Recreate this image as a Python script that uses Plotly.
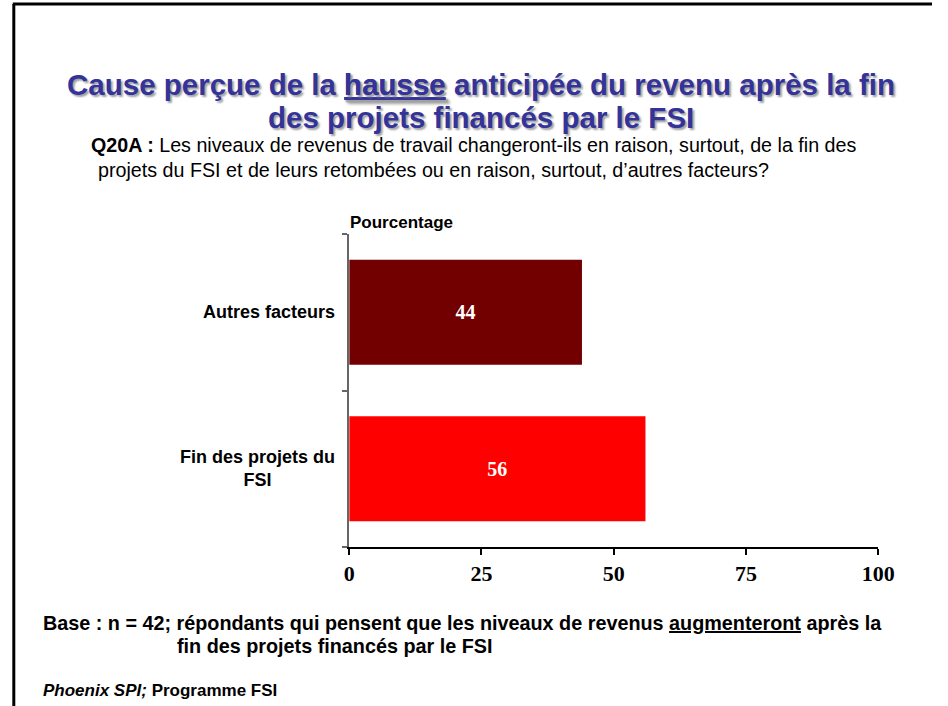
import plotly.graph_objects as go

W, H = 948, 706

categories = ['Fin des projets du<br>FSI', 'Autres facteurs']
values = [56, 44]
bar_colors = ['#FF0000', '#720000']
x_ticks = [0, 25, 50, 75, 100]


def px(x):
    return x / W


def py(y):
    return 1 - y / H


fig = go.Figure(go.Bar(
    x=values,
    y=categories,
    orientation='h',
    marker=dict(color=bar_colors, line=dict(width=0)),
    width=0.67,
    text=[str(v) for v in values],
    textposition='inside',
    insidetextanchor='middle',
    textangle=0,
    textfont=dict(family='Liberation Serif', size=20, color='white'),
    texttemplate='<b>%{text}</b>',
    hoverinfo='skip',
))

arial = 'Liberation Sans'
title_font = dict(family=arial, size=29.5, color='#333399', shadow='2px 2px 2px #a0a0a0')
annotations = [
    dict(text='<b>Cause perçue de la <u>hausse</u> anticipée du revenu après la fin</b>',
         x=px(487), y=py(84), font=title_font, xanchor='center', yanchor='middle'),
    dict(text='<b>des projets financés par le FSI</b>',
         x=px(487), y=py(118), font=title_font, xanchor='center', yanchor='middle'),
    dict(text='<b>Q20A :</b> Les niveaux de revenus de travail changeront-ils en raison, surtout, de la fin des',
         x=px(86), y=py(145), font=dict(family=arial, size=19.7, color='black'),
         xanchor='left', yanchor='middle'),
    dict(text="projets du FSI et de leurs retombées ou en raison, surtout, d’autres facteurs?",
         x=px(93), y=py(170), font=dict(family=arial, size=19.7, color='black'),
         xanchor='left', yanchor='middle'),
    dict(text='<b>Pourcentage</b>',
         x=px(351), y=py(223), font=dict(family=arial, size=17, color='black'),
         xanchor='left', yanchor='middle'),
    dict(text='<b>Base : n = 42; répondants qui pensent que les niveaux de revenus <u>augmenteront</u> après la</b>',
         x=px(37), y=py(623), font=dict(family=arial, size=19.8, color='black'),
         xanchor='left', yanchor='middle'),
    dict(text='<b>fin des projets financés par le FSI</b>',
         x=px(174), y=py(646), font=dict(family=arial, size=19.8, color='black'),
         xanchor='left', yanchor='middle'),
    dict(text='<b><i>Phoenix SPI;</i> Programme FSI</b>',
         x=px(37), y=py(690), font=dict(family=arial, size=17, color='black'),
         xanchor='left', yanchor='middle'),
]

# category labels, lines centred like the original
for cat in categories:
    annotations.append(dict(
        text='<b>' + cat + '</b>', xref='paper', yref='y', x=px(340), y=cat,
        font=dict(family=arial, size=18, color='black'),
        xanchor='right', yanchor='middle', align='center', showarrow=False))

for a in annotations:
    a.setdefault('xref', 'paper')
    a.setdefault('yref', 'paper')
    a.setdefault('showarrow', False)

fig.update_layout(
    width=W, height=H,
    margin=dict(l=0, r=0, t=0, b=0),
    paper_bgcolor='white',
    plot_bgcolor='white',
    showlegend=False,
    annotations=annotations,
    shapes=[
        dict(type='line', xref='paper', yref='paper', x0=px(9), y0=0, x1=px(9), y1=py(4),
             line=dict(color='black', width=3)),
        dict(type='line', xref='paper', yref='paper', x0=px(8), y0=py(4), x1=1, y1=py(4),
             line=dict(color='black', width=3)),
    ],
    xaxis=dict(
        domain=[px(352), px(893)],
        range=[0, 100],
        tickvals=x_ticks,
        ticktext=['<b>%d</b>' % t for t in x_ticks],
        tickfont=dict(family='Liberation Serif', size=22, color='black'),
        showgrid=False, zeroline=False,
        showline=True, linecolor='black', linewidth=1.5,
        ticks='outside', ticklen=6, tickcolor='black', tickwidth=1.5,
        anchor='y',
    ),
    yaxis=dict(
        domain=[py(547), py(234)],
        range=[-0.5, 1.5],
        type='category',
        showticklabels=False,
        showgrid=False, zeroline=False,
        showline=True, linecolor='#666666', linewidth=1.5,
        ticks='outside', ticklen=5, tickcolor='#666666', tickwidth=1.5,
        tickson='boundaries',
        anchor='x',
    ),
)

fig.write_html(
    'out.html',
    config={'displayModeBar': False},
    post_script="document.body.style.margin='0';"
                "document.documentElement.style.overflow='hidden';"
                "document.body.style.overflow='hidden';",
)
